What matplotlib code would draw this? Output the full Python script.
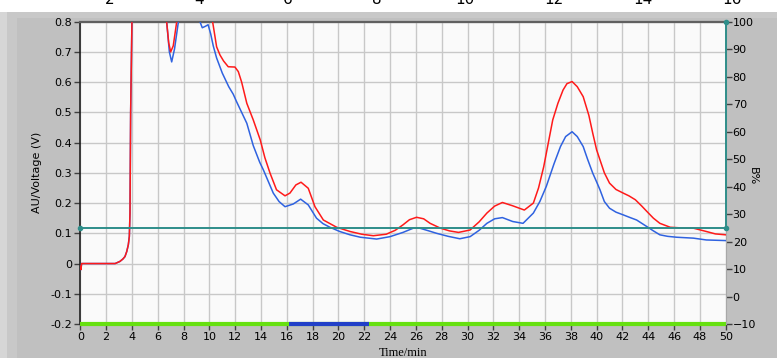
import numpy as np
import matplotlib.pyplot as plt
from matplotlib.patches import Rectangle

# red trace (time/min, AU)
red_t = [0.0, 0.05, 0.1, 1.0, 2.0, 2.7, 3.07, 3.3, 3.46, 3.6, 3.72, 3.8, 3.85, 3.9, 4.0, 4.1,
         4.5, 5.5, 6.3, 6.69, 6.85, 7.0, 7.2, 7.47, 7.8, 8.5, 9.5, 10.25, 10.56, 10.82, 11.1,
         11.46, 11.98, 12.24, 12.5, 12.9, 13.4, 13.94, 14.3, 14.7, 15.2, 15.86, 16.24, 16.7,
         17.1, 17.66, 18.18, 18.83, 19.86, 20.9, 21.8, 22.7, 23.7, 24.4, 25.0, 25.5, 26.05,
         26.6, 27.1, 27.9, 28.6, 29.3, 30.2, 30.9, 31.5, 32.1, 32.7, 33.5, 34.4, 35.1, 35.5,
         35.9, 36.6, 37.0, 37.4, 37.7, 38.1, 38.5, 38.96, 39.4, 39.7, 40.0, 40.26, 40.6, 41.0,
         41.5, 42.06, 42.5, 43.0, 43.5, 43.9, 44.4, 44.9, 45.7, 46.5, 47.5, 48.5, 49.2, 50.0]
red_v = [-0.01, -0.02, 0.0, 0.0, 0.0, 0.0, 0.007, 0.015, 0.023, 0.04, 0.062, 0.09, 0.167, 0.5, 0.8, 1.1,
         1.4, 1.5, 1.1, 0.8, 0.73, 0.70, 0.72, 0.8, 1.0, 1.2, 1.0, 0.8, 0.717, 0.69, 0.67,
         0.651, 0.65, 0.635, 0.60, 0.53, 0.475, 0.409, 0.35, 0.299, 0.244, 0.224, 0.233, 0.26,
         0.269, 0.249, 0.188, 0.144, 0.12, 0.106, 0.097, 0.092, 0.097, 0.11, 0.128, 0.145, 0.153,
         0.148, 0.133, 0.117, 0.108, 0.103, 0.111, 0.138, 0.167, 0.19, 0.202, 0.191, 0.177, 0.2, 0.25,
         0.32, 0.475, 0.53, 0.574, 0.595, 0.602, 0.585, 0.552, 0.49, 0.431, 0.376, 0.343, 0.30, 0.266,
         0.245, 0.233, 0.224, 0.211, 0.19, 0.172, 0.15, 0.133, 0.12, 0.118, 0.117, 0.106, 0.098, 0.095]

# blue trace
blue_t = [0.0, 0.05, 0.1, 1.0, 2.0, 2.7, 3.07, 3.3, 3.46, 3.6, 3.72, 3.8, 3.85, 3.9, 4.0, 4.1,
          4.5, 5.5, 6.3, 6.69, 6.9, 7.08, 7.3, 7.6, 8.0, 8.8, 9.27, 9.45, 9.7, 9.9, 10.1, 10.3,
          10.56, 11.0, 11.5, 11.85, 12.1, 12.5, 12.9, 13.4, 13.9, 14.18, 14.95, 15.4, 15.86, 16.5,
          17.07, 17.66, 18.3, 18.8, 19.34, 20.1, 20.9, 21.7, 22.96, 24.0, 25.0, 25.8, 26.3, 27.0,
          27.6, 28.5, 29.4, 30.2, 30.9, 31.5, 32.1, 32.7, 33.5, 34.3, 35.1, 35.6, 36.1, 36.7, 37.2,
          37.6, 38.1, 38.5, 38.96, 39.3, 39.7, 40.0, 40.26, 40.6, 41.0, 41.5, 42.06, 42.6, 43.1,
          43.5, 43.9, 44.4, 44.9, 45.5, 46.2, 47.5, 48.5, 50.0]
blue_v = [-0.01, -0.02, 0.0, 0.0, 0.0, 0.0, 0.007, 0.015, 0.023, 0.04, 0.062, 0.09, 0.167, 0.5, 0.8, 1.1,
          1.4, 1.5, 1.1, 0.8, 0.70, 0.667, 0.71, 0.8, 1.0, 0.95, 0.8, 0.78, 0.785, 0.79, 0.76, 0.72,
          0.68, 0.63, 0.585, 0.56, 0.536, 0.50, 0.464, 0.39, 0.335, 0.31, 0.233, 0.205, 0.188, 0.197,
          0.213, 0.194, 0.15, 0.132, 0.12, 0.106, 0.095, 0.087, 0.081, 0.089, 0.103, 0.117, 0.117, 0.108,
          0.10, 0.09, 0.082, 0.089, 0.11, 0.133, 0.148, 0.152, 0.139, 0.133, 0.167, 0.205, 0.255, 0.33, 0.387,
          0.42, 0.436, 0.42, 0.387, 0.345, 0.299, 0.27, 0.244, 0.205, 0.183, 0.17, 0.161, 0.152, 0.144,
          0.133, 0.122, 0.108, 0.095, 0.09, 0.087, 0.084, 0.078, 0.076]

# B% gradient program
grad_t = [0, 50, 50]
grad_b = [25, 25, 100]

# fraction collector bar
coll_t = [16.2, 22.4]

xticks = list(range(0, 51, 2))
yticks = [-0.2, -0.1, 0, 0.1, 0.2, 0.3, 0.4, 0.5, 0.6, 0.7, 0.8]
ylabels = ['-0.2', '-0.1', '0', '0.1', '0.2', '0.3', '0.4', '0.5', '0.6', '0.7', '0.8']
bticks = list(range(-10, 101, 10))
top_labels = ['2', '4', '6', '8', '10', '12', '14', '16']

W, H = 777, 358
fig = plt.figure(figsize=(W / 100, H / 100), dpi=100, facecolor='white')
# gray panel below the white strip on top
bg = [((0, 0), 1, (H - 12) / H, '#c0c0c0'),
      ((0, 0), 7 / W, (H - 12) / H, '#d6d6d6'),
      ((7 / W, 0), 10 / W, (H - 12) / H, '#c8c8c8'),
      ((7 / W, (H - 18) / H), 1, 6 / H, '#c8c8c8')]
for xy, w, h, c in bg:
    fig.patches.append(Rectangle(xy, w, h, transform=fig.transFigure,
                                 facecolor=c, edgecolor='none', zorder=-5))

# cropped labels of the chart above (only their lower part shows)
for i, lab in enumerate(top_labels):
    fig.text((110 + 88.8 * i) / W, (H - 4.5) / H, lab, ha='center', va='baseline',
             fontsize=11, color='black')

ax = fig.add_axes([80.3 / W, (H - 324) / H, 645.4 / W, 302.3 / H])
ax.set_facecolor('#fafafa')
ax.set_xlim(0, 50)
ax.set_ylim(-0.2, 0.8)
ax.set_xticks(xticks)
ax.set_yticks(yticks)
ax.set_yticklabels(ylabels)
ax.grid(True, color='#c8c8c8', lw=1)
ax.set_axisbelow(True)
ax.tick_params(axis='both', direction='out', length=4, width=1, labelsize=8, pad=2,
               color='#404040')

ax.plot(blue_t, blue_v, color='#2f62e0', lw=1.1, zorder=3)
ax.plot(red_t, red_v, color='#ff1a1a', lw=1.1, zorder=4)
ax.plot([0, 50], [-0.2, -0.2], color='#66e010', lw=3, solid_capstyle='butt', zorder=5, clip_on=False)
ax.plot(coll_t, [-0.2, -0.2], color='#2040c8', lw=3, solid_capstyle='butt', zorder=6, clip_on=False)

ax.spines['left'].set_color('#202020')
ax.spines['left'].set_linewidth(1.2)
ax.spines['top'].set_color('#606060')
ax.spines['top'].set_linewidth(1.6)
ax.spines['bottom'].set_color('#606060')
ax.spines['right'].set_visible(False)

ax.set_ylabel('AU/Voltage (V)', fontsize=8)
ax.yaxis.set_label_coords(-0.059, 0.5)
ax.set_xlabel('Time/min', fontsize=9, family='Liberation Serif', labelpad=3)

ax2 = ax.twinx()
ax2.set_ylim(-10, 100)
ax2.set_yticks(bticks)
ax2.tick_params(axis='y', direction='out', length=4, width=1, labelsize=8, pad=1,
                color='#404040')
ax2.spines['right'].set_color('#a8a8a8')
for side in ['left', 'top', 'bottom']:
    ax2.spines[side].set_visible(False)
ax2.plot(grad_t, grad_b, color='#2e8e8a', lw=1.4, marker='o', ms=3,
         clip_on=False, zorder=3)
ax2.set_ylabel('B%', fontsize=8, rotation=270, labelpad=20)
ax2.yaxis.set_label_coords(1.05, 0.49)

fig.savefig('out.png', dpi=100, facecolor=fig.get_facecolor())
